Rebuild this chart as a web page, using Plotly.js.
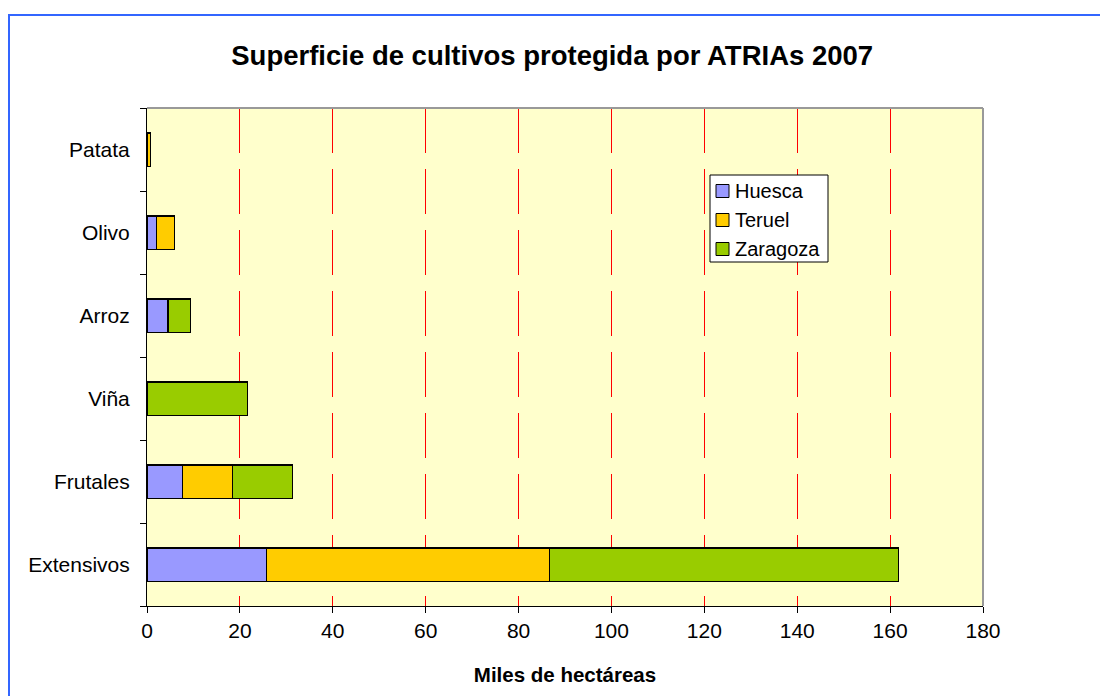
<!DOCTYPE html>
<html>
<head>
<meta charset="utf-8">
<script src="https://cdn.plot.ly/plotly-3.0.1.min.js"></script>
<style>
html,body{margin:0;padding:0;background:#fff;}
#wrap{position:relative;width:1100px;height:696px;}
#chart{position:absolute;left:0;top:0;width:1100px;height:696px;}
#frame{position:absolute;left:8px;top:14px;width:1100px;height:700px;border-top:2px solid #3366FF;border-left:2px solid #3366FF;pointer-events:none;}
</style>
</head>
<body>
<div id="wrap"><div id="chart"></div><div id="frame"></div></div>
<script>
const categories = ["Extensivos", "Frutales", "Viña", "Arroz", "Olivo", "Patata"];
const seriesNames = ["Huesca", "Teruel", "Zaragoza"];
const huesca   = [25.8, 7.6, null, 4.5, 2.1, null];
const teruel   = [60.8, 10.8, null, null, 3.9, 0.7];
const zaragoza = [75.2, 13.0, 21.7, 4.8, null, null];
const xTicks = [0, 20, 40, 60, 80, 100, 120, 140, 160, 180];

const colors = ["#9999FF", "#FFCC00", "#99CC00"];
const font = "Liberation Sans, Arial, sans-serif";
function tr(name, vals, color) {
  return {type: "bar", orientation: "h", name: name, y: categories, x: vals,
    marker: {color: color, line: {color: "#000", width: 1.2}}, hoverinfo: "x+name"};
}
const values = [huesca, teruel, zaragoza];
const data = seriesNames.map((n, i) => tr(n, values[i], colors[i]));

// Manual legend (box, swatches, labels) in paper coordinates
const plotL = 147, plotW = 836, plotB = 606, plotH = 498;
const px = v => (v - plotL) / plotW;
const py = v => (plotB - v) / plotH;
const shapes = [
  {type: "line", xref: "paper", yref: "paper", x0: 0, x1: 1, y0: 1, y1: 1, line: {color: "#999", width: 2}},
  {type: "line", xref: "paper", yref: "paper", x0: 1, x1: 1, y0: 0, y1: 1, line: {color: "#999", width: 2}},
  {type: "rect", xref: "paper", yref: "paper", x0: px(710), x1: px(828), y0: py(262), y1: py(175),
    fillcolor: "#FFFFFF", line: {color: "#000", width: 1}, layer: "above"}
];
const annotations = [];
seriesNames.forEach((n, i) => {
  const cy = 191 + i * 29;
  shapes.push({type: "rect", xref: "paper", yref: "paper", x0: px(716), x1: px(729), y0: py(cy + 6.5), y1: py(cy - 6.5),
    fillcolor: colors[i], line: {color: "#000", width: 1}, layer: "above"});
  annotations.push({xref: "paper", yref: "paper", x: px(733), y: py(cy), xanchor: "left", yanchor: "middle",
    text: n, showarrow: false, font: {size: 20, family: font, color: "#000"}});
});

const layout = {
  width: 1100, height: 696,
  margin: {l: 147, r: 117, t: 108, b: 90, pad: 0},
  paper_bgcolor: "rgba(0,0,0,0)",
  plot_bgcolor: "#FFFFCC",
  barmode: "stack", bargap: 0.6,
  showlegend: false,
  font: {family: font, color: "#000", size: 21},
  title: {text: "<b>Superficie de cultivos protegida por ATRIAs 2007</b>", x: 0.502, xref: "container", xanchor: "center", y: 0.921, yanchor: "middle", font: {size: 27.5, family: font}},
  xaxis: {
    range: [0, 180], tickvals: xTicks, ticktext: xTicks.map(String),
    showgrid: true, gridcolor: "#FF0000", gridwidth: 1, griddash: "45px,16px",
    zeroline: false, showline: true, linecolor: "#000", linewidth: 1,
    ticks: "outside", ticklen: 6, tickcolor: "#000", tickfont: {size: 21},
    title: {text: "<b>Miles de hectáreas</b>", font: {size: 20.5}, standoff: 26}
  },
  yaxis: {
    type: "category", categoryorder: "array", categoryarray: categories,
    showgrid: false, zeroline: false, showline: true, linecolor: "#000", linewidth: 1,
    ticks: "outside", ticklen: 6, tickcolor: "#000", tickson: "boundaries",
    tickfont: {size: 21}, ticklabelstandoff: 12
  },
  shapes: shapes,
  annotations: annotations
};
Plotly.newPlot("chart", data, layout, {displayModeBar: false, staticPlot: true});
</script>
</body>
</html>
